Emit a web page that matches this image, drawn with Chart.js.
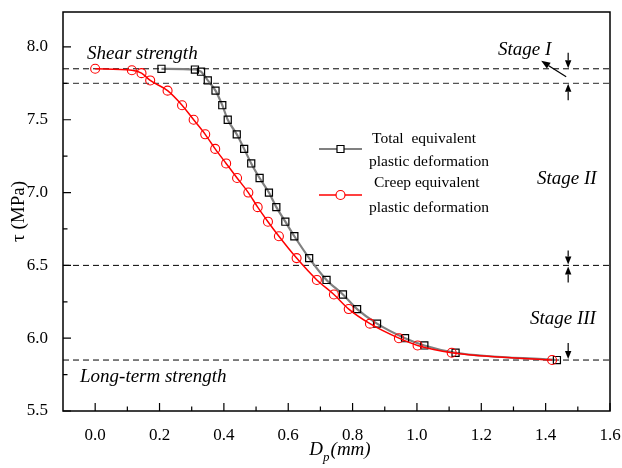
<!DOCTYPE html>
<html><head><meta charset="utf-8">
<script src="https://cdn.jsdelivr.net/npm/chart.js@4/dist/chart.umd.min.js"></script>
<style>html,body{margin:0;padding:0;background:#fff}#wrap{width:622px;height:468px}</style>
</head><body><div id="wrap"><canvas id="c" width="622" height="468"></canvas></div>
<script>
// ---- data ----
const TOTAL_X = [0.206, 0.310, 0.329, 0.350, 0.374, 0.395, 0.412, 0.440, 0.463, 0.485, 0.511, 0.540, 0.563, 0.591, 0.619, 0.665, 0.719, 0.770, 0.814, 0.876, 0.963, 1.023, 1.120, 1.435];
const TOTAL_Y = [7.85, 7.845, 7.83, 7.77, 7.70, 7.60, 7.50, 7.40, 7.30, 7.20, 7.10, 7.00, 6.90, 6.80, 6.70, 6.55, 6.40, 6.30, 6.20, 6.10, 6.00, 5.95, 5.90, 5.85];
const CREEP_X = [0.000, 0.114, 0.144, 0.171, 0.225, 0.270, 0.306, 0.342, 0.373, 0.407, 0.441, 0.476, 0.505, 0.537, 0.571, 0.626, 0.689, 0.742, 0.788, 0.854, 0.944, 1.002, 1.108, 1.420];
const CREEP_Y = [7.85, 7.84, 7.82, 7.77, 7.70, 7.60, 7.50, 7.40, 7.30, 7.20, 7.10, 7.00, 6.90, 6.80, 6.70, 6.55, 6.40, 6.30, 6.20, 6.10, 6.00, 5.95, 5.90, 5.85];
const REF_LEVELS = [7.85, 7.75, 6.5, 5.85];
const REF_COLORS = ['#000000', '#555555', '#000000', '#000000'];
const X_RANGE = [-0.1, 1.6];
const Y_RANGE = [5.5, 8.24];
const X_TICKS = [0.0, 0.2, 0.4, 0.6, 0.8, 1.0, 1.2, 1.4, 1.6];
const X_MINOR = [0.1, 0.3, 0.5, 0.7, 0.9, 1.1, 1.3, 1.5];
const Y_TICKS = [5.5, 6.0, 6.5, 7.0, 7.5, 8.0];
const Y_MINOR = [5.75, 6.25, 6.75, 7.25, 7.75];
const SERIES_NAMES = [['Total  equivalent', 'plastic deformation'], ['Creep equivalent', 'plastic deformation']];
const Y_TITLE = 'τ (MPa)';
const STAGE_X = 1.47;

const pts = (xs, ys) => xs.map((v, i) => ({x: v, y: ys[i]}));
const SERIF = '"Liberation Serif", "Times New Roman", serif';

const refSets = REF_LEVELS.map((lv, i) => ({
  data: [{x: X_RANGE[0], y: lv}, {x: X_RANGE[1], y: lv}],
  showLine: true, borderColor: REF_COLORS[i], borderWidth: i === 1 ? 1.3 : 1,
  borderDash: [6, 4], pointRadius: 0, order: 5
}));

function drawArrow(ctx, x1, y1, x2, y2, head = 8, w = 3.2) {
  const ang = Math.atan2(y2 - y1, x2 - x1);
  const bx = x2 - head * Math.cos(ang), by = y2 - head * Math.sin(ang);
  ctx.beginPath(); ctx.moveTo(x1, y1); ctx.lineTo(bx, by); ctx.stroke();
  ctx.beginPath();
  ctx.moveTo(x2, y2);
  ctx.lineTo(bx + w * Math.sin(ang), by - w * Math.cos(ang));
  ctx.lineTo(bx - w * Math.sin(ang), by + w * Math.cos(ang));
  ctx.closePath(); ctx.fill();
}

const deco = {
  id: 'deco',
  afterDraw(chart) {
    const {ctx, chartArea: a, scales: {x, y}} = chart;
    ctx.save();
    // frame
    ctx.strokeStyle = '#000'; ctx.lineWidth = 1.5;
    ctx.strokeRect(a.left, a.top, a.right - a.left, a.bottom - a.top);
    // inward ticks
    ctx.lineWidth = 1.2;
    ctx.beginPath();
    X_TICKS.forEach(v => { const px = x.getPixelForValue(v); ctx.moveTo(px, a.bottom); ctx.lineTo(px, a.bottom - 8); });
    X_MINOR.forEach(v => { const px = x.getPixelForValue(v); ctx.moveTo(px, a.bottom); ctx.lineTo(px, a.bottom - 4.5); });
    Y_TICKS.forEach(v => { const py = y.getPixelForValue(v); ctx.moveTo(a.left, py); ctx.lineTo(a.left + 8, py); });
    Y_MINOR.forEach(v => { const py = y.getPixelForValue(v); ctx.moveTo(a.left, py); ctx.lineTo(a.left + 4.5, py); });
    ctx.stroke();

    // arrows
    ctx.fillStyle = '#000'; ctx.strokeStyle = '#000'; ctx.lineWidth = 1.2;
    const ax = x.getPixelForValue(STAGE_X);
    const y1 = y.getPixelForValue(REF_LEVELS[0]), y2 = y.getPixelForValue(REF_LEVELS[1]);
    const y3 = y.getPixelForValue(REF_LEVELS[2]), y4 = y.getPixelForValue(REF_LEVELS[3]);
    drawArrow(ctx, ax, y1 - 16, ax, y1 - 0.5);
    drawArrow(ctx, ax, y2 + 17, ax, y2 + 0.5);
    drawArrow(ctx, ax, y3 - 15, ax, y3 - 1);
    drawArrow(ctx, ax, y3 + 17, ax, y3 + 1);
    drawArrow(ctx, ax, y4 - 17, ax, y4 - 1);
    drawArrow(ctx, ax - 2, y1 + 8, ax - 27, y1 - 8, 9, 3.5);

    // annotation texts
    ctx.font = 'italic 19px ' + SERIF;
    ctx.textBaseline = 'alphabetic'; ctx.textAlign = 'left';
    ctx.fillText('Shear strength', 87, 59);
    ctx.fillText('Long-term strength', 80, 382);
    ctx.fillText('Stage I', 498, 55);
    ctx.fillText('Stage II', 537, 184);
    ctx.fillText('Stage III', 530, 324);

    // legend
    const lg = [
      {y: 149, color: '#808080', mk: '#000', style: 'rect', tx: [[372, 139], [369, 162]]},
      {y: 195, color: '#ff0000', mk: '#ff0000', style: 'circle', tx: [[374, 183], [369, 208]]}
    ];
    lg.forEach((L, i) => {
      ctx.strokeStyle = L.color; ctx.lineWidth = i === 0 ? 2 : 1.5;
      ctx.beginPath(); ctx.moveTo(319, L.y); ctx.lineTo(362, L.y); ctx.stroke();
      ctx.strokeStyle = L.mk; ctx.lineWidth = 1.2; ctx.fillStyle = '#fff';
      ctx.beginPath();
      if (L.style === 'rect') ctx.rect(340.5 - 3.5, L.y - 3.5, 7, 7);
      else ctx.arc(340.5, L.y, 4.5, 0, Math.PI * 2);
      ctx.fill(); ctx.stroke();
      ctx.fillStyle = '#000'; ctx.font = '15.5px ' + SERIF; ctx.textBaseline = 'middle';
      SERIES_NAMES[i].forEach((t, j) => ctx.fillText(t, L.tx[j][0], L.tx[j][1]));
    });

    // x axis title D_p(mm)
    ctx.textBaseline = 'alphabetic';
    ctx.font = 'italic 19px ' + SERIF;
    const wD = ctx.measureText('D').width;
    ctx.font = 'italic 13px ' + SERIF;
    const wp = ctx.measureText('p').width;
    ctx.font = 'italic 19px ' + SERIF;
    const wm = ctx.measureText('(mm)').width;
    const cx = (a.left + a.right) / 2 + 3;
    let sx = cx - (wD + wp + wm) / 2;
    ctx.fillText('D', sx, 455);
    ctx.font = 'italic 13px ' + SERIF;
    ctx.fillText('p', sx + wD, 461);
    ctx.font = 'italic 19px ' + SERIF;
    ctx.fillText('(mm)', sx + wD + wp + 1, 455);
    ctx.restore();
  }
};

new Chart(document.getElementById('c'), {
  type: 'scatter',
  data: {
    datasets: [
      {label: 'Total', data: pts(TOTAL_X, TOTAL_Y), showLine: true, cubicInterpolationMode: 'monotone',
       borderColor: '#808080', borderWidth: 2.2, pointStyle: 'rect', pointRadius: 5, pointBorderColor: '#000',
       pointBackgroundColor: 'rgba(0,0,0,0)', pointBorderWidth: 1.2, order: 1},
      {label: 'Creep', data: pts(CREEP_X, CREEP_Y), showLine: true, cubicInterpolationMode: 'monotone',
       borderColor: '#ff0000', borderWidth: 1.5, pointStyle: 'circle', pointRadius: 4.5, pointBorderColor: '#ff0000',
       pointBackgroundColor: 'rgba(0,0,0,0)', pointBorderWidth: 1.1, order: 0},
      ...refSets
    ]
  },
  options: {
    responsive: false, animation: false, devicePixelRatio: 1,
    layout: {padding: {top: 12, right: 12, left: 0, bottom: 0}},
    plugins: {legend: {display: false}, tooltip: {enabled: false}},
    scales: {
      x: {
        type: 'linear', min: X_RANGE[0], max: X_RANGE[1],
        grid: {display: false}, border: {display: false},
        ticks: {font: {family: SERIF, size: 17}, color: '#000', padding: 6, maxRotation: 0, autoSkip: false,
                callback: v => Number(v).toFixed(1)},
        afterBuildTicks: s => { s.ticks = X_TICKS.map(v => ({value: v})); },
        afterFit: s => { s.height = 57; s.paddingLeft = 0; s.paddingRight = 0; }
      },
      y: {
        type: 'linear', min: Y_RANGE[0], max: Y_RANGE[1],
        grid: {display: false}, border: {display: false},
        ticks: {font: {family: SERIF, size: 17}, color: '#000', padding: 7, autoSkip: false,
                callback: v => Number(v).toFixed(1)},
        title: {display: true, text: Y_TITLE, font: {family: SERIF, size: 19}, color: '#000', padding: {top: 8, bottom: 0}},
        afterBuildTicks: s => { s.ticks = Y_TICKS.map(v => ({value: v})); },
        afterFit: s => { s.width = 63; s.paddingTop = 0; s.paddingBottom = 0; }
      }
    }
  },
  plugins: [deco]
});
</script></body></html>
